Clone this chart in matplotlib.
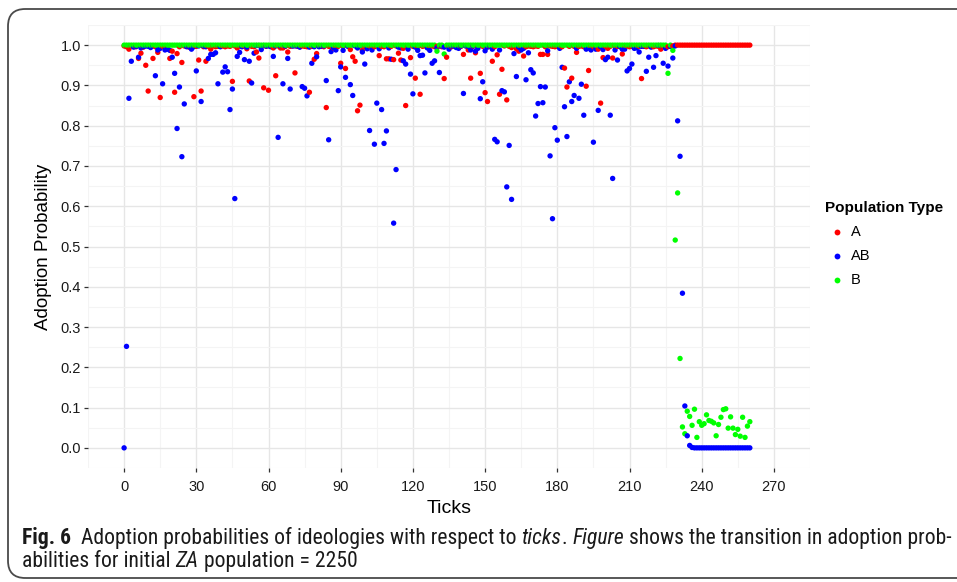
import matplotlib
matplotlib.use("Agg")
import matplotlib.pyplot as plt
import matplotlib.font_manager as fm
from matplotlib.patches import FancyBboxPatch
from matplotlib.lines import Line2D
import numpy as np

# ---------------- data ----------------
series_names = ["A", "AB", "B"]
series_colors = ["#FF0000", "#0000FF", "#00FF00"]

ticks = list(range(261))

a_vals = [
    0.998, 0.996, 0.990, 0.998, 0.997, 0.996, 0.967, 0.980, 0.995, 0.950,
    0.886, 0.998, 0.967, 0.996, 0.982, 0.870, 0.997, 0.995, 0.996, 0.967,
    0.985, 0.883, 0.979, 0.996, 0.957, 0.998, 0.997, 0.995, 0.998, 0.872,
    0.997, 0.963, 0.886, 0.996, 0.960, 0.997, 0.990, 0.998, 0.996, 0.997,
    0.997, 0.998, 0.996, 0.998, 0.997, 0.910, 0.998, 0.993, 0.998, 0.997,
    0.998, 0.991, 0.911, 0.997, 0.996, 0.983, 0.968, 0.998, 0.894, 0.997,
    0.888, 0.997, 0.993, 0.924, 0.998, 0.993, 0.993, 0.997, 0.983, 0.997,
    0.998, 0.931, 0.997, 0.996, 0.998, 0.997, 0.996, 0.883, 0.997, 0.965,
    0.979, 0.997, 0.998, 0.996, 0.845, 0.997, 0.996, 0.993, 0.997, 0.997,
    0.955, 0.997, 0.942, 0.998, 0.989, 0.971, 0.960, 0.837, 0.851, 0.987,
    0.997, 0.996, 0.998, 0.997, 0.996, 0.998, 0.974, 0.997, 0.996, 0.966,
    0.966, 0.997, 0.964, 0.998, 0.980, 0.963, 0.992, 0.850, 0.997, 0.969,
    0.997, 0.918, 0.996, 0.878, 0.997, 0.998, 0.996, 0.997, 0.998, 0.996,
    0.997, 0.998, 0.996, 0.917, 0.970, 0.997, 0.996, 0.998, 0.997, 0.996,
    0.997, 0.977, 0.998, 0.988, 0.918, 0.997, 0.981, 0.996, 0.930, 0.997,
    0.882, 0.860, 0.997, 0.960, 0.996, 0.976, 0.878, 0.940, 0.998, 0.864,
    0.997, 0.994, 0.997, 0.991, 0.985, 0.997, 0.973, 0.996, 0.998, 0.997,
    0.996, 0.998, 0.997, 0.977, 0.977, 0.996, 0.977, 0.998, 0.997, 0.996,
    0.997, 0.998, 0.996, 0.943, 0.896, 0.997, 0.918, 0.997, 0.982, 0.997,
    0.998, 0.996, 0.898, 0.937, 0.997, 0.996, 0.997, 0.990, 0.856, 0.969,
    0.997, 0.992, 0.997, 0.968, 0.998, 0.997, 0.996, 0.978, 0.997, 0.998,
    0.996, 0.997, 0.998, 0.996, 0.997, 0.917, 0.997, 0.996, 0.998, 0.997,
    0.996, 0.998, 0.997, 0.990, 0.997, 0.998, 0.996, 0.997, 0.998, 1.000,
    1.000, 1.000, 1.000, 1.000, 1.000, 1.000, 1.000, 1.000, 1.000, 1.000,
    1.000, 1.000, 1.000, 1.000, 1.000, 1.000, 1.000, 1.000, 1.000, 1.000,
    1.000, 1.000, 1.000, 1.000, 1.000, 1.000, 1.000, 1.000, 1.000, 1.000,
    1.000,
]

ab_vals = [
    0.000, 0.252, 0.868, 0.960, 0.995, 0.997, 0.970, 0.993, 0.996, 0.998,
    0.997, 0.994, 0.998, 0.924, 0.988, 0.992, 0.904, 0.988, 0.990, 0.987,
    0.970, 0.930, 0.793, 0.896, 0.723, 0.854, 0.996, 0.996, 0.990, 0.996,
    0.936, 0.998, 0.860, 0.998, 0.996, 0.967, 0.977, 0.977, 0.981, 0.904,
    0.996, 0.933, 0.946, 0.934, 0.840, 0.891, 0.619, 0.972, 0.982, 0.996,
    0.964, 0.995, 0.960, 0.906, 0.980, 0.999, 0.999, 0.989, 0.999, 0.998,
    0.998, 0.996, 0.972, 0.998, 0.771, 0.998, 0.904, 0.998, 0.967, 0.891,
    0.998, 0.998, 0.998, 0.995, 0.897, 0.893, 0.874, 0.995, 0.955, 0.996,
    0.971, 0.996, 0.997, 0.998, 0.912, 0.765, 0.984, 0.994, 0.988, 0.887,
    0.946, 0.987, 0.920, 0.997, 0.902, 0.875, 0.998, 0.993, 0.998, 0.983,
    0.953, 0.991, 0.788, 0.988, 0.754, 0.856, 0.991, 0.840, 0.756, 0.787,
    0.993, 0.965, 0.558, 0.691, 0.995, 0.993, 0.961, 0.953, 0.990, 0.928,
    0.879, 0.995, 0.987, 0.974, 0.975, 0.931, 0.993, 0.987, 0.955, 0.961,
    0.993, 0.932, 0.998, 0.995, 0.998, 0.990, 0.998, 0.998, 0.994, 0.992,
    0.998, 0.880, 0.998, 0.997, 0.988, 0.998, 0.985, 0.992, 0.867, 0.909,
    0.986, 0.995, 0.998, 0.990, 0.766, 0.760, 0.988, 0.887, 0.884, 0.648,
    0.751, 0.617, 0.979, 0.922, 0.995, 0.988, 0.992, 0.914, 0.981, 0.939,
    0.931, 0.824, 0.855, 0.897, 0.857, 0.896, 0.986, 0.725, 0.569, 0.795,
    0.764, 0.992, 0.945, 0.847, 0.773, 0.909, 0.860, 0.875, 0.992, 0.868,
    0.903, 0.826, 0.990, 0.993, 0.988, 0.759, 0.990, 0.838, 0.996, 0.989,
    0.964, 0.970, 0.826, 0.669, 0.988, 0.963, 0.997, 0.990, 0.990, 0.936,
    0.942, 0.953, 0.992, 0.993, 0.983, 0.997, 0.997, 0.935, 0.970, 0.995,
    0.945, 0.974, 0.999, 0.999, 0.955, 0.992, 0.948, 0.997, 0.968, 0.998,
    0.812, 0.724, 0.384, 0.104, 0.030, 0.006, 0.001, 0.000, 0.000, 0.000,
    0.000, 0.000, 0.000, 0.000, 0.000, 0.000, 0.000, 0.000, 0.000, 0.000,
    0.000, 0.000, 0.000, 0.000, 0.000, 0.000, 0.000, 0.000, 0.000, 0.000,
    0.000,
]

b_vals = [
    1.000, 1.000, 1.000, 1.000, 1.000, 1.000, 1.000, 1.000, 1.000, 1.000,
    1.000, 1.000, 1.000, 1.000, 1.000, 1.000, 1.000, 1.000, 1.000, 1.000,
    1.000, 1.000, 1.000, 1.000, 1.000, 1.000, 1.000, 1.000, 1.000, 1.000,
    1.000, 1.000, 1.000, 1.000, 1.000, 1.000, 1.000, 1.000, 1.000, 1.000,
    1.000, 1.000, 1.000, 1.000, 1.000, 1.000, 1.000, 1.000, 1.000, 1.000,
    1.000, 1.000, 1.000, 1.000, 1.000, 1.000, 1.000, 1.000, 1.000, 1.000,
    1.000, 1.000, 1.000, 1.000, 1.000, 1.000, 1.000, 1.000, 1.000, 1.000,
    1.000, 1.000, 1.000, 1.000, 1.000, 1.000, 1.000, 1.000, 1.000, 1.000,
    1.000, 1.000, 1.000, 1.000, 1.000, 1.000, 1.000, 1.000, 1.000, 1.000,
    1.000, 1.000, 1.000, 1.000, 1.000, 1.000, 1.000, 1.000, 1.000, 1.000,
    1.000, 1.000, 1.000, 1.000, 1.000, 1.000, 1.000, 1.000, 1.000, 1.000,
    1.000, 1.000, 1.000, 1.000, 1.000, 1.000, 1.000, 1.000, 1.000, 1.000,
    1.000, 1.000, 1.000, 1.000, 1.000, 1.000, 1.000, 1.000, 1.000, 1.000,
    0.985, 1.000, 1.000, 0.978, 1.000, 1.000, 1.000, 1.000, 1.000, 1.000,
    1.000, 1.000, 1.000, 1.000, 1.000, 1.000, 1.000, 1.000, 1.000, 1.000,
    1.000, 1.000, 1.000, 1.000, 1.000, 1.000, 1.000, 1.000, 1.000, 1.000,
    1.000, 1.000, 1.000, 1.000, 1.000, 1.000, 1.000, 1.000, 1.000, 1.000,
    1.000, 1.000, 1.000, 1.000, 1.000, 1.000, 1.000, 1.000, 1.000, 1.000,
    1.000, 1.000, 1.000, 1.000, 1.000, 1.000, 1.000, 1.000, 1.000, 1.000,
    1.000, 1.000, 1.000, 1.000, 1.000, 1.000, 1.000, 1.000, 1.000, 1.000,
    1.000, 1.000, 1.000, 1.000, 1.000, 1.000, 1.000, 1.000, 1.000, 1.000,
    1.000, 1.000, 1.000, 1.000, 1.000, 1.000, 1.000, 1.000, 1.000, 1.000,
    1.000, 1.000, 1.000, 1.000, 1.000, 1.000, 0.930, 1.000, 0.987, 0.516,
    0.633, 0.222, 0.052, 0.035, 0.091, 0.078, 0.056, 0.096, 0.026, 0.065,
    0.056, 0.060, 0.082, 0.068, 0.066, 0.062, 0.030, 0.058, 0.076, 0.095,
    0.097, 0.049, 0.077, 0.049, 0.033, 0.046, 0.029, 0.076, 0.026, 0.054,
    0.065,
]

x_ticks = [0, 30, 60, 90, 120, 150, 180, 210, 240, 270]
y_ticks = [0.0, 0.1, 0.2, 0.3, 0.4, 0.5, 0.6, 0.7, 0.8, 0.9, 1.0]

x_label = "Ticks"
y_label = "Adoption Probability"
legend_title = "Population Type"

caption_line1 = [("Fig. 6", "bold", "normal"),
                 ("  Adoption probabilities of ideologies with respect to ", "normal", "normal"),
                 ("ticks", "normal", "italic"),
                 (". ", "normal", "normal"),
                 ("Figure", "normal", "italic"),
                 (" shows the transition in adoption prob-", "normal", "normal")]
caption_line2 = [("abilities for initial ", "normal", "normal"),
                 ("ZA", "normal", "italic"),
                 (" population = 2250", "normal", "normal")]

# ---------------- figure ----------------
W, H = 957, 582
plt.rcParams["font.family"] = ["Liberation Sans", "DejaVu Sans"]
fig = plt.figure(figsize=(W / 100, H / 100), dpi=100)
fig.patch.set_facecolor("white")

def fx(px):
    return px / W

def fy(py):
    return 1 - py / H

# outer rounded frame (right side runs off the canvas)
frame = FancyBboxPatch((fx(8), fy(578)), fx(1000) - fx(8), fy(9) - fy(578),
                       boxstyle="round,pad=0,rounding_size=0.018",
                       transform=fig.transFigure, fill=False,
                       edgecolor="#4a4a4a", linewidth=1.3,
                       mutation_aspect=W / H)
fig.patches.append(frame)

ax = fig.add_axes([fx(88), fy(468), fx(810) - fx(88), fy(25) - fy(468)])
ax.set_facecolor("white")
for s in ax.spines.values():
    s.set_visible(False)

# interleave by tick so later ticks paint over earlier ones
series_vals = [a_vals, ab_vals, b_vals]
xs, ys, cs = [], [], []
for i, t in enumerate(ticks):
    for k in range(3):
        xs.append(t)
        ys.append(series_vals[k][i])
        cs.append(series_colors[k])
ax.scatter(xs, ys, c=cs, s=15, linewidths=0, zorder=3)

ax.set_xlim(-13.0, 273.0)
ax.set_ylim(-0.05, 1.05)
ax.set_xticks(x_ticks)
ax.set_yticks(y_ticks)
ax.set_xticklabels([str(v) for v in x_ticks])
ax.set_yticklabels([f"{v:.1f}" for v in y_ticks])
ax.set_xticks([v + 15 for v in [-30] + x_ticks], minor=True)
ax.set_yticks([v + 0.05 for v in [-0.1] + y_ticks], minor=True)
ax.grid(True, which="major", color="#E6E6E6", linewidth=1.0, zorder=0)
ax.grid(True, which="minor", color="#F4F4F4", linewidth=0.8, zorder=0)
ax.set_axisbelow(True)
ax.tick_params(axis="both", which="major", length=3.2, width=0.9, color="#333333",
               labelsize=10.5, labelcolor="#1a1a1a", pad=2)
ax.tick_params(axis="x", which="major", pad=5.5)
ax.tick_params(axis="both", which="minor", length=0)

ax.set_xlabel(x_label, fontsize=14, color="black", labelpad=4)
ax.set_ylabel(y_label, fontsize=13.5, color="black", labelpad=6)

# legend (drawn manually in figure pixel coordinates)
fig.text(fx(825), fy(208), legend_title, fontsize=11, fontweight="bold",
         ha="left", va="center", color="black")
for j, (name, col) in enumerate(zip(series_names, series_colors)):
    yy = 232 + 24 * j
    fig.add_artist(Line2D([fx(837)], [fy(yy)], marker="o", markersize=4.2,
                          markerfacecolor=col, markeredgewidth=0, linestyle="none",
                          transform=fig.transFigure))
    fig.text(fx(851), fy(yy), name, fontsize=10.5, ha="left", va="center", color="black")

# ---------------- caption ----------------
def has_font(name):
    try:
        fm.findfont(fm.FontProperties(family=name), fallback_to_default=False)
        return True
    except Exception:
        return False

cap_family = next((f for f in ["Liberation Sans Narrow", "DejaVu Sans Condensed",
                               "Roboto Condensed", "Open Sans Condensed"] if has_font(f)),
                  "Liberation Sans")

renderer = fig.canvas.get_renderer()

def run_width(s, size, weight, style):
    t1 = fig.text(0, 0, "|" + s + "|", fontsize=size, fontweight=weight,
                  fontstyle=style, family=cap_family)
    t2 = fig.text(0, 0, "||", fontsize=size, fontweight=weight,
                  fontstyle=style, family=cap_family)
    w = t1.get_window_extent(renderer).width - t2.get_window_extent(renderer).width
    t1.remove()
    t2.remove()
    return w

def line_width(runs, size):
    return sum(run_width(s, size, w, st) for s, w, st in runs)

base = 11.5
w0 = line_width(caption_line1, base)
cap_size = base * (951 - 22) / w0

def draw_runs(runs, x0, y, size):
    x = x0
    for s, weight, style in runs:
        fig.text(fx(x), fy(y), s, fontsize=size, fontweight=weight, fontstyle=style,
                 family=cap_family, ha="left", va="baseline", color="#1a1a1a")
        x += run_width(s, size, weight, style)

draw_runs(caption_line1, 22, 544, cap_size)
draw_runs(caption_line2, 22, 567, cap_size)

fig.savefig("out.png", dpi=100, facecolor="white")
